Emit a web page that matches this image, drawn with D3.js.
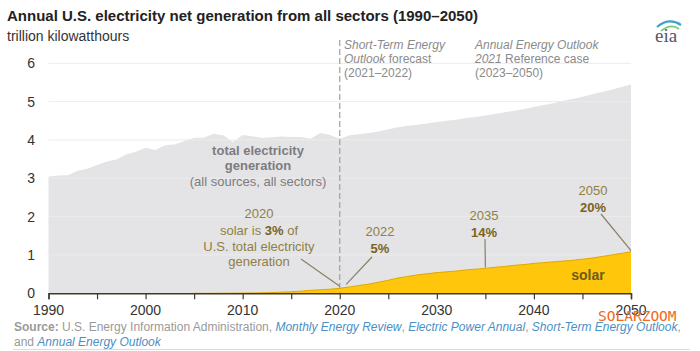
<!DOCTYPE html>
<html>
<head>
<meta charset="utf-8">
<script src="https://cdn.jsdelivr.net/npm/d3@7"></script>
<style>
  body { margin: 0; background: #fff; }
  svg { display: block; font-family: "Liberation Sans", Arial, sans-serif; }
</style>
</head>
<body>
<div id="chart"></div>
<script>
// years 1990-2050
var years = d3.range(1990, 2051);

// total net generation, trillion kWh (history 1990-2020, STEO 2021-22, AEO2021 2023-50)
var totalGen = [
  3.04, 3.07, 3.08, 3.20, 3.25, 3.35, 3.44, 3.49, 3.62, 3.69,
  3.80, 3.74, 3.86, 3.88, 3.97, 4.06, 4.06, 4.16, 4.12, 3.95,
  4.13, 4.10, 4.05, 4.07, 4.09, 4.08, 4.08, 4.03, 4.18, 4.13,
  4.03, 4.12, 4.15, 4.18, 4.22, 4.28, 4.33, 4.37, 4.40, 4.43,
  4.47, 4.50, 4.53, 4.57, 4.60, 4.64, 4.68, 4.72, 4.76, 4.81,
  4.86, 4.91, 4.96, 5.02, 5.07, 5.13, 5.19, 5.25, 5.31, 5.38,
  5.45
];

// solar generation, trillion kWh
var solarGen = [
  0.00, 0.00, 0.00, 0.00, 0.00, 0.00, 0.00, 0.00, 0.00, 0.00,
  0.00, 0.00, 0.00, 0.00, 0.00, 0.00, 0.00, 0.00, 0.002, 0.003,
  0.005, 0.008, 0.012, 0.020, 0.030, 0.040, 0.055, 0.077, 0.093, 0.107,
  0.132, 0.165, 0.205, 0.24, 0.29, 0.34, 0.40, 0.44, 0.48, 0.51,
  0.54, 0.56, 0.58, 0.61, 0.63, 0.65, 0.68, 0.70, 0.73, 0.75,
  0.78, 0.80, 0.82, 0.84, 0.86, 0.89, 0.92, 0.96, 1.00, 1.04,
  1.085
];

var yTicks = [0, 1, 2, 3, 4, 5, 6];
var xTickLabels = [1990, 2000, 2010, 2020, 2030, 2040, 2050];
var xTickMarks = d3.range(1990, 2051, 5);

// share call-outs
var callouts = [
  { year: 2022, head: "2022", pct: "5%" },
  { year: 2035, head: "2035", pct: "14%" },
  { year: 2050, head: "2050", pct: "20%" }
];

var data = years.map(function(y, i) {
  return { year: y, total: totalGen[i], solar: solarGen[i] };
});

var width = 700, height = 351;
var svg = d3.select("#chart").append("svg")
  .attr("width", width)
  .attr("height", height);

var x = d3.scaleLinear().domain([1990, 2050]).range([48.5, 631]);
var y = d3.scaleLinear().domain([0, 6]).range([293.3, 63.3]);

// title
svg.append("text")
  .attr("x", 7).attr("y", 21)
  .attr("font-size", "15px").attr("font-weight", "bold").attr("fill", "#222")
  .text("Annual U.S. electricity net generation from all sectors (1990\u20132050)");
svg.append("text")
  .attr("x", 7).attr("y", 41)
  .attr("font-size", "14px").attr("fill", "#333")
  .text("trillion kilowatthours");

// eia logo
var logo = svg.append("g").attr("transform", "translate(655,23)");
logo.append("path").attr("d", "M2,4 Q14,-6 26,2").attr("fill", "none")
  .attr("stroke", "#3aa3c9").attr("stroke-width", 2.2);
logo.append("path").attr("d", "M6,8 Q16,0 24,6").attr("fill", "none")
  .attr("stroke", "#7cc576").attr("stroke-width", 1.6);
logo.append("text").attr("x", 0).attr("y", 19)
  .attr("font-family", "'Liberation Serif', serif").attr("font-size", "19px")
  .attr("fill", "#556").text("eia");

// total area
var totalArea = d3.area()
  .x(function(d) { return x(d.year); })
  .y0(y(0))
  .y1(function(d) { return y(d.total); });
svg.append("path").datum(data)
  .attr("d", totalArea)
  .attr("fill", "#e4e4e6");

// gridlines
svg.append("g").selectAll("line")
  .data(yTicks.filter(function(t) { return t > 0; }))
  .enter().append("line")
  .attr("x1", x(1990)).attr("x2", x(2050))
  .attr("y1", function(d) { return y(d); })
  .attr("y2", function(d) { return y(d); })
  .attr("stroke", "#ececec").attr("stroke-width", 1);

// solar area
var solarArea = d3.area()
  .x(function(d) { return x(d.year); })
  .y0(y(0))
  .y1(function(d) { return y(d.solar); });
var solarLine = d3.line()
  .x(function(d) { return x(d.year); })
  .y(function(d) { return y(d.solar); });
var solarData = data.filter(function(d) { return d.year >= 2005; });
svg.append("path").datum(solarData)
  .attr("d", solarArea)
  .attr("fill", "#ffc60b");
svg.append("path").datum(solarData)
  .attr("d", solarLine)
  .attr("fill", "none").attr("stroke", "#e0a800").attr("stroke-width", 1);

// 2020 dashed divider
svg.append("line")
  .attr("x1", x(2020)).attr("x2", x(2020))
  .attr("y1", 40).attr("y2", y(0))
  .attr("stroke", "#a0a0a0").attr("stroke-width", 1.2)
  .attr("stroke-dasharray", "6,3");

// forecast headers
function header(xp, lines) {
  var t = svg.append("text").attr("font-size", "12px").attr("fill", "#8a8a8a");
  lines.forEach(function(parts, i) {
    var line = t.append("tspan").attr("x", xp).attr("y", 49 + i * 14);
    parts.forEach(function(p) {
      line.append("tspan").attr("font-style", p[1] ? "italic" : "normal").text(p[0]);
    });
  });
}
header(344, [[["Short-Term Energy", true]], [["Outlook", true], [" forecast", false]], [["(2021\u20132022)", false]]]);
header(475, [[["Annual Energy Outlook", true]], [["2021", true], [" Reference case", false]], [["(2023\u20132050)", false]]]);

// axes
var xAxis = svg.append("g").attr("transform", "translate(0," + y(0) + ")")
  .call(d3.axisBottom(x).tickValues(xTickMarks).tickSize(6).tickFormat(""));
xAxis.select(".domain").attr("stroke", "#3d3a2c").attr("stroke-width", 1.5);
xAxis.selectAll(".tick line").attr("stroke", "#3d3a2c").attr("stroke-width", 1.2);

svg.append("g").selectAll("text")
  .data(xTickLabels)
  .enter().append("text")
  .attr("x", function(d) { return x(d); })
  .attr("y", 315)
  .attr("text-anchor", "middle")
  .attr("font-size", "14px").attr("fill", "#333")
  .text(function(d) { return d; });

svg.append("g").selectAll("text")
  .data(yTicks)
  .enter().append("text")
  .attr("x", 35)
  .attr("y", function(d) { return y(d) + 5; })
  .attr("text-anchor", "end")
  .attr("font-size", "14px").attr("fill", "#333")
  .text(function(d) { return d; });

// total label
var tl = svg.append("text").attr("text-anchor", "middle").attr("font-size", "13px").attr("fill", "#7c7c80");
tl.append("tspan").attr("x", 258).attr("y", 155).attr("font-weight", "bold").text("total electricity");
tl.append("tspan").attr("x", 258).attr("y", 170).attr("font-weight", "bold").text("generation");
tl.append("tspan").attr("x", 258).attr("y", 186).text("(all sources, all sectors)");

// 2020 annotation
var gold = "#8f7f45", goldDark = "#7a6320";
var a20 = svg.append("text").attr("text-anchor", "middle").attr("font-size", "13px").attr("fill", gold);
a20.append("tspan").attr("x", 259).attr("y", 218).text("2020");
var l2 = a20.append("tspan").attr("x", 259).attr("y", 235);
l2.append("tspan").text("solar is ");
l2.append("tspan").attr("font-weight", "bold").attr("fill", goldDark).text("3%");
l2.append("tspan").text(" of");
a20.append("tspan").attr("x", 259).attr("y", 251).text("U.S. total electricity");
a20.append("tspan").attr("x", 259).attr("y", 266).text("generation");
svg.append("line")
  .attr("x1", 301).attr("y1", 259)
  .attr("x2", x(2020)).attr("y2", y(solarGen[30]) - 2)
  .attr("stroke", "#8a8066").attr("stroke-width", 1.2);

// share callouts
var labelPos = { 2022: [380, 236, 372, 257], 2035: [484, 220, 485, 239], 2050: [593, 195, 601, 214] };
callouts.forEach(function(c) {
  var p = labelPos[c.year];
  var t = svg.append("text").attr("text-anchor", "middle").attr("font-size", "13px");
  t.append("tspan").attr("x", p[0]).attr("y", p[1]).attr("fill", gold).text(c.head);
  t.append("tspan").attr("x", p[0]).attr("y", p[1] + 17).attr("fill", goldDark)
    .attr("font-weight", "bold").text(c.pct);
  var i = years.indexOf(c.year);
  svg.append("line")
    .attr("x1", p[2]).attr("y1", p[3])
    .attr("x2", x(c.year) - (c.year === 2022 ? 13 : 0)).attr("y2", y(solarGen[i]) - 1)
    .attr("stroke", "#8a8066").attr("stroke-width", 1.2);
});

svg.append("text")
  .attr("x", 588).attr("y", 280)
  .attr("text-anchor", "middle")
  .attr("font-size", "14px").attr("font-weight", "bold").attr("fill", "#6e5a1a")
  .text("solar");

// source
var src = svg.append("text").attr("font-size", "12px").attr("fill", "#9a9a9a");
var s1 = src.append("tspan").attr("x", 14).attr("y", 331);
s1.append("tspan").attr("font-weight", "bold").text("Source:");
s1.append("tspan").text(" U.S. Energy Information Administration, ");
var blue = "#4a90c4";
[["Monthly Energy Review", true], [", ", false], ["Electric Power Annual", true], [", ", false],
 ["Short-Term Energy Outlook", true], [",", false]].forEach(function(p) {
  s1.append("tspan").attr("fill", p[1] ? blue : "#9a9a9a").attr("font-style", p[1] ? "italic" : "normal").text(p[0]);
});
var s2 = src.append("tspan").attr("x", 14).attr("y", 346);
s2.append("tspan").text("and ");
s2.append("tspan").attr("fill", blue).attr("font-style", "italic").text("Annual Energy Outlook");

svg.append("line")
  .attr("x1", 13).attr("x2", 690).attr("y1", 349.5).attr("y2", 349.5)
  .attr("stroke", "#dcdcdc");

// watermark
svg.append("text")
  .attr("x", 598).attr("y", 321)
  .attr("font-family", "'DejaVu Sans Mono', monospace").attr("font-size", "14.5px")
  .attr("fill", "#f06a1a")
  .text("SOLARZOOM");
</script>
</body>
</html>
